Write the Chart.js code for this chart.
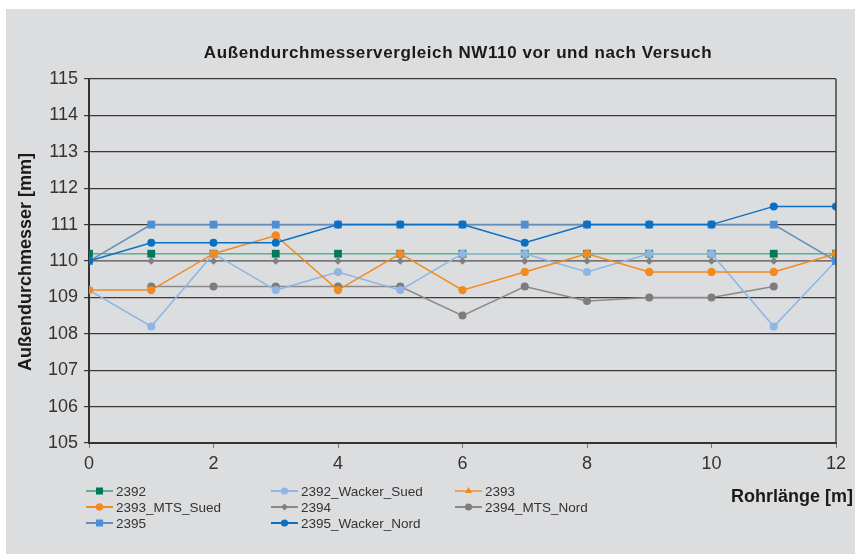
<!DOCTYPE html>
<html>
<head>
<meta charset="utf-8">
<script src="https://cdn.jsdelivr.net/npm/chart.js@4"></script>
<style>
  html, body { margin: 0; padding: 0; background: #ffffff; }
  #wrap { position: absolute; left: 6px; top: 9px; width: 849px; height: 545px; background: #dcdddf; }
  canvas { display: block; }
</style>
</head>
<body>
<div id="wrap"><canvas id="chart" width="849" height="545"></canvas></div>
<script>
const positions = [0, 1, 2, 3, 4, 5, 6, 7, 8, 9, 10, 11, 12];

const s2392        = [110.2, 110.2, 110.2, 110.2, 110.2, 110.2, 110.2, 110.2, 110.2, 110.2, 110.2, 110.2, 110.2];
const s2392Wacker  = [109.2, 108.2, 110.2, 109.2, 109.7, 109.2, 110.2, 110.2, 109.7, 110.2, 110.2, 108.2, 110.0];
const s2393        = [null, null, null, null, null, null, null, null, null, null, null, null, null];
const s2393Mts     = [109.2, 109.2, 110.2, 110.7, 109.2, 110.2, 109.2, 109.7, 110.2, 109.7, 109.7, 109.7, 110.2];
const s2394        = [110.0, 110.0, 110.0, 110.0, 110.0, 110.0, 110.0, 110.0, 110.0, 110.0, 110.0, 110.0, 110.0];
const s2394Mts     = [null, 109.3, 109.3, 109.3, 109.3, 109.3, 108.5, 109.3, 108.9, 109.0, 109.0, 109.3, null];
const s2395        = [110.0, 111, 111, 111, 111, 111, 111, 111, 111, 111, 111, 111, 110.0];
const s2395Wacker  = [110.0, 110.5, 110.5, 110.5, 111, 111, 111, 110.5, 111, 111, 111, 111.5, 111.5];

const TITLE = 'Außendurchmesservergleich NW110 vor und nach Versuch';
const Y_TITLE = 'Außendurchmesser [mm]';
const X_TITLE = 'Rohrlänge [m]';
const FONT = '"Liberation Sans", Arial, sans-serif';

function pts(values) {
    return positions.map((x, i) => ({ x: x, y: values[i] }));
}

function series(label, values, line, fill, style, radius, order) {
    return {
        label: label,
        data: pts(values),
        borderColor: line,
        backgroundColor: fill,
        pointBackgroundColor: fill,
        pointBorderColor: fill,
        pointStyle: style,
        pointRadius: radius,
        pointBorderWidth: 0,
        borderWidth: 1.5,
        tension: 0,
        spanGaps: false,
        order: order
    };
}

const datasets = [
    series('2392', s2392, '#5fae92', '#007a5a', 'rect', 5.5, 5),
    series('2392_Wacker_Sued', s2392Wacker, '#8fb5e3', '#8fb5e3', 'circle', 4, 4),
    series('2393', s2393, '#f4a25a', '#f28a22', 'triangle', 4.5, 3),
    series('2393_MTS_Sued', s2393Mts, '#f28a22', '#f28a22', 'circle', 4.2, 1),
    series('2394', s2394, '#8a8a8a', '#808080', 'rectRot', 3.8, 7),
    series('2394_MTS_Nord', s2394Mts, '#8a8a8a', '#7d7d7d', 'circle', 4, 6),
    series('2395', s2395, '#6a8cb8', '#4a90d6', 'rect', 5.5, 2),
    series('2395_Wacker_Nord', s2395Wacker, '#0b6fc2', '#0b6fc2', 'circle', 4, 0)
];

const legendLayout = [
    [0, 0], [1, 0], [2, 0],
    [0, 1], [1, 1], [2, 1],
    [0, 2], [1, 2]
];
const legendCols = [80, 265, 449];
const legendRows = [482, 498, 514];

function drawMarker(ctx, ds, x, y) {
    Chart.helpers.drawPoint(ctx, {
        pointStyle: ds.pointStyle,
        radius: ds.pointRadius * 0.9,
        rotation: 0,
        borderWidth: 0
    }, x, y);
}

const decor = {
    id: 'decor',
    afterDraw(chart) {
        const ctx = chart.ctx;
        const area = chart.chartArea;
        ctx.save();

        // right frame of the plot
        ctx.strokeStyle = '#444';
        ctx.lineWidth = 1.5;
        ctx.beginPath();
        ctx.moveTo(area.right, area.top);
        ctx.lineTo(area.right, area.bottom);
        ctx.stroke();

        ctx.fillStyle = '#1a1a1a';
        ctx.textBaseline = 'middle';

        ctx.font = 'bold 17px ' + FONT;
        ctx.textAlign = 'center';
        ctx.letterSpacing = '0.6px';
        ctx.fillText(TITLE, 452, 44);
        ctx.letterSpacing = '0px';

        ctx.save();
        ctx.translate(20, 253);
        ctx.rotate(-Math.PI / 2);
        ctx.font = 'bold 18px ' + FONT;
        ctx.fillText(Y_TITLE, 0, 0);
        ctx.restore();

        ctx.font = 'bold 18px ' + FONT;
        ctx.textAlign = 'right';
        ctx.fillText(X_TITLE, 847, 488);

        // legend in three columns
        ctx.font = '13.5px ' + FONT;
        ctx.textAlign = 'left';
        datasets.forEach((ds, i) => {
            const x = legendCols[legendLayout[i][0]];
            const y = legendRows[legendLayout[i][1]];
            ctx.strokeStyle = ds.borderColor;
            ctx.lineWidth = 2;
            ctx.beginPath();
            ctx.moveTo(x, y);
            ctx.lineTo(x + 27, y);
            ctx.stroke();
            ctx.fillStyle = ds.pointBackgroundColor;
            drawMarker(ctx, ds, x + 13.5, y);
            ctx.fillStyle = '#333';
            ctx.fillText(ds.label, x + 30, y + 1);
        });

        ctx.restore();
    }
};

new Chart(document.getElementById('chart'), {
    type: 'line',
    data: { datasets: datasets },
    options: {
        responsive: false,
        animation: false,
        layout: { padding: { top: 70, right: 19, bottom: 81, left: 0 } },
        plugins: {
            legend: { display: false },
            title: { display: false },
            tooltip: { enabled: false }
        },
        scales: {
            x: {
                type: 'linear',
                min: 0,
                max: 12,
                afterFit(scale) { scale.height = 30; },
                ticks: { stepSize: 2, color: '#333', font: { family: FONT, size: 18 }, padding: 5, maxRotation: 0 },
                grid: { drawOnChartArea: false, drawTicks: true, tickLength: 5, color: '#777' },
                border: { color: '#333', width: 2 }
            },
            y: {
                min: 105,
                max: 115,
                afterFit(scale) { scale.width = 83; },
                ticks: { stepSize: 1, color: '#333', font: { family: FONT, size: 18 }, padding: 6 },
                grid: { color: '#3a3a3a', lineWidth: 1.2, tickLength: 5 },
                border: { color: '#333', width: 2 }
            }
        }
    },
    plugins: [decor]
});
</script>
</body>
</html>
